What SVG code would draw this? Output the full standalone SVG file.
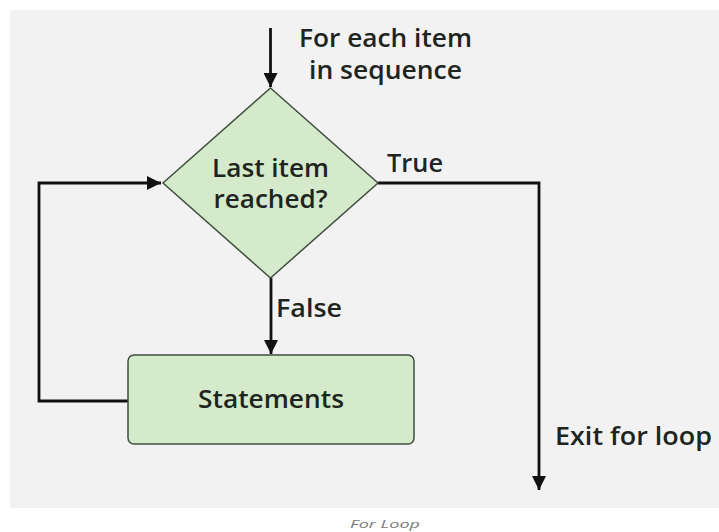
<svg xmlns="http://www.w3.org/2000/svg" width="719" height="532" viewBox="0 0 719 532">
<style>
.lbl{font-family:"Open Sans","Noto Sans",sans-serif;font-weight:600;font-size:25px;fill:#1e251e}
.node{fill:#d5eacb;stroke:#3f4f3f;stroke-width:1.5}
.edge{fill:none;stroke:#111;stroke-width:2.8}
.cap{font-family:"Open Sans",sans-serif;font-style:italic;font-size:11px;fill:#7a7a7a}
</style>
<defs>
<marker id="ah" viewBox="0 0 10 10" refX="10" refY="5" markerWidth="5" markerHeight="5" markerUnits="strokeWidth" orient="auto">
<path d="M0,0 L10,5 L0,10 z" fill="#111"/>
</marker>
</defs>
<rect x="0" y="0" width="719" height="532" fill="#ffffff"/>
<rect x="10" y="10" width="709" height="498" fill="#f2f2f2"/>
<g id="connectors">
<line class="edge" x1="270.5" y1="28" x2="270.5" y2="87" marker-end="url(#ah)"/>
<line class="edge" x1="271" y1="278" x2="271" y2="354" marker-end="url(#ah)"/>
<polyline class="edge" points="128,401 39,401 39,183 161,183" marker-end="url(#ah)"/>
<polyline class="edge" points="378,183 539,183 539,490" marker-end="url(#ah)"/>
</g>
<g id="decision">
<polygon class="node" points="270.5,88 378,183 270.5,278 163,183"/>
<text class="lbl" x="270.5" y="177" text-anchor="middle" textLength="117" lengthAdjust="spacingAndGlyphs">Last item</text>
<text class="lbl" x="270.5" y="208" text-anchor="middle" textLength="114" lengthAdjust="spacingAndGlyphs">reached?</text>
</g>
<g id="statements">
<rect class="node" x="128" y="355" width="286" height="89" rx="6"/>
<text class="lbl" x="271" y="408" text-anchor="middle" textLength="146" lengthAdjust="spacingAndGlyphs">Statements</text>
</g>
<g id="labels">
<text class="lbl" x="299" y="47" textLength="173" lengthAdjust="spacingAndGlyphs">For each item</text>
<text class="lbl" x="309" y="79" textLength="153" lengthAdjust="spacingAndGlyphs">in sequence</text>
<text class="lbl" x="387" y="172" textLength="56" lengthAdjust="spacingAndGlyphs">True</text>
<text class="lbl" x="276" y="317" textLength="66" lengthAdjust="spacingAndGlyphs">False</text>
<text class="lbl" x="555" y="445" textLength="157" lengthAdjust="spacingAndGlyphs">Exit for loop</text>
<text class="cap" x="385" y="528" text-anchor="middle" textLength="70" lengthAdjust="spacingAndGlyphs">For Loop</text>
</g>
</svg>
